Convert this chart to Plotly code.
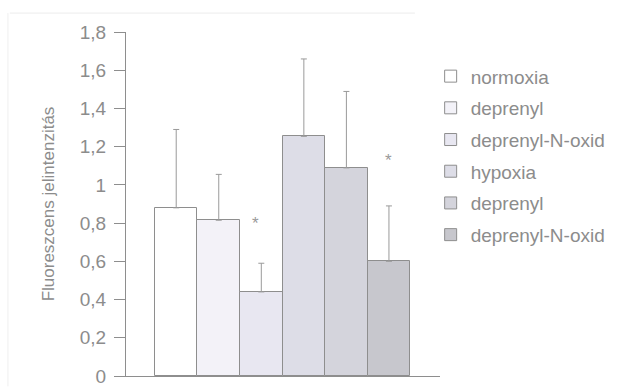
import plotly.graph_objects as go

# Group labels, means and upper SD for each bar
groups = ["normoxia", "deprenyl", "deprenyl-N-oxid", "hypoxia", "deprenyl", "deprenyl-N-oxid"]
means = [0.88, 0.815, 0.44, 1.254, 1.089, 0.60]
sd_up = [0.41, 0.24, 0.15, 0.405, 0.40, 0.29]
fills = ["#ffffff", "#f3f2f8", "#e8e7f1", "#dddde7", "#d4d4dc", "#c7c7cd"]

# significance marks: (x position, y position)
sig_x = [1.86, 5.0]
sig_y = [0.80, 1.13]

y_ticks = [0, 0.2, 0.4, 0.6, 0.8, 1.0, 1.2, 1.4, 1.6, 1.8]
y_tick_text = ["0", "0,2", "0,4", "0,6", "0,8", "1", "1,2", "1,4", "1,6", "1,8"]

GREY = "#8e8e8e"
TXT = "#8c8c8c"
FONT = "Liberation Sans"

fig = go.Figure()
for i, (name, m, e, c) in enumerate(zip(groups, means, sd_up, fills)):
    fig.add_trace(go.Bar(
        x=[i], y=[m], name=name, width=1.0,
        marker=dict(color=c, line=dict(color=GREY, width=1)),
        error_y=dict(type="data", symmetric=False, array=[e], arrayminus=[0],
                     color="#9a9a9a", thickness=1, width=3),
        legendgroup=f"g{i}",
    ))

for sx, sy in zip(sig_x, sig_y):
    fig.add_annotation(x=sx, y=sy, text="*", showarrow=False,
                       font=dict(family=FONT, size=17, color="#9a9a9a"))

# faint outer frame lines
fig.add_shape(type="line", xref="paper", yref="paper", x0=-0.37, x1=0.92,
              y0=1.055, y1=1.055, line=dict(color="#ececec", width=1))
fig.add_shape(type="line", xref="paper", yref="paper", x0=-0.376, x1=-0.376,
              y0=-0.03, y1=1.055, line=dict(color="#efefef", width=1))

fig.update_layout(
    width=638, height=387,
    margin=dict(l=126, r=198, t=32, b=11, autoexpand=False),
    paper_bgcolor="white", plot_bgcolor="white",
    bargap=0, showlegend=True,
    font=dict(family=FONT, color=TXT),
    legend=dict(
        xref="container", yref="container", x=0.675, y=0.852,
        xanchor="left", yanchor="top",
        font=dict(family=FONT, size=19, color=TXT),
        itemwidth=30, tracegroupgap=4, bgcolor="rgba(0,0,0,0)",
        maxheight=320,
    ),
    xaxis=dict(range=[-1.18, 6.2], showticklabels=False, ticks="",
               showgrid=False, zeroline=False, showline=True,
               linecolor=GREY, linewidth=1),
    yaxis=dict(range=[0, 1.8], tickvals=y_ticks, ticktext=y_tick_text,
               ticks="outside", ticklen=11, tickcolor=GREY,
               showgrid=False, zeroline=False, showline=True,
               linecolor=GREY, linewidth=1,
               tickfont=dict(family=FONT, size=19, color=TXT),
               ticklabelstandoff=4, ticklabeloverflow="allow",
               title=dict(text="Fluoreszcens jelintenzitás", standoff=20,
                          font=dict(family=FONT, size=17, color=TXT))),
)

fig.write_html("out.html")
